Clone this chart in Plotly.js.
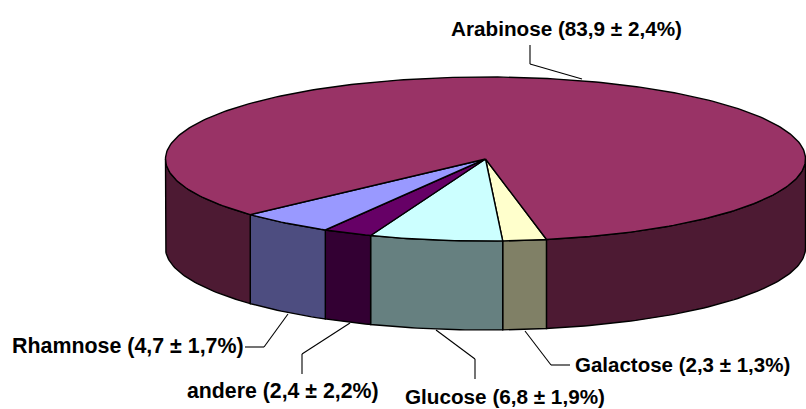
<!DOCTYPE html>
<html>
<head>
<meta charset="utf-8">
<script src="https://cdn.plot.ly/plotly-3.0.1.min.js"></script>
<style>html,body{margin:0;padding:0;background:#fff}#c{width:806px;height:409px}</style>
</head>
<body>
<div id="c"></div>
<script>
// Slices in drawing order, clockwise on screen from the front right
var names = ['Galactose', 'Glucose', 'andere', 'Rhamnose', 'Arabinose'];
// Slice sizes
var values = [2.2, 6.7, 2.5, 4.8, 83.8];
// Values as printed in the labels
var errors = ['2,3 ± 1,3%', '6,8 ± 1,9%', '2,4 ± 2,2%', '4,7 ± 1,7%', '83,9 ± 2,4%'];
var topColors = ['#FFFFCC', '#CCFFFF', '#660066', '#9999FF', '#993366'];
var sideColors = ['#808066', '#668080', '#330033', '#4D4D80', '#4D1A33'];

// Label anchors (centre of text) and font sizes
var labelX = [682, 504.5, 283, 127.5, 566];
var labelY = [364, 396, 391, 346, 28];
var labelSize = [20.5, 20.7, 21.3, 21.4, 20.7];
// Leader polylines
var leadX = [[570,551,525], [475,475,436], [302,302,350], [245,264,288], [530,530,582]];
var leadY = [[365,365,331], [379,359,330], [374,354,323], [347,347,314], [45,64,79]];

// Pie geometry
var cx = 485.5, cy = 159, rx = 320, ry = 82, depth = 89, startDeg = 79;

function arc(a0, a1, dy) {
  var xs = [], ys = [];
  var n = Math.max(2, Math.ceil(Math.abs(a1 - a0)));
  for (var i = 0; i <= n; i++) {
    var t = (a0 + (a1 - a0) * i / n) * Math.PI / 180;
    xs.push(cx + rx * Math.cos(t));
    ys.push(cy + ry * Math.sin(t) + dy);
  }
  return {x: xs, y: ys};
}

var total = values.reduce(function (s, v) { return s + v; }, 0);
var spans = [], acc = startDeg;
values.forEach(function (v) { var e = acc + v / total * 360; spans.push([acc, e]); acc = e; });

var traces = [];
function poly(x, y, color) {
  traces.push({type: 'scatter', mode: 'lines', x: x, y: y, fill: 'toself', fillcolor: color,
    line: {color: '#000', width: 1.4}, hoverinfo: 'skip', showlegend: false});
}
function side(a0, a1, color) {
  var top = arc(a0, a1, 0), bot = arc(a1, a0, depth);
  poly(top.x.concat(bot.x, [top.x[0]]), top.y.concat(bot.y, [top.y[0]]), color);
}
// Side walls: only the front half of the rim (0..180 deg, or 360..540) is visible
spans.forEach(function (s, i) {
  [0, 360].forEach(function (o) {
    var a0 = Math.max(s[0], o), a1 = Math.min(s[1], o + 180);
    if (a1 > a0) side(a0, a1, sideColors[i]);
  });
});
// Top faces
spans.forEach(function (s, i) {
  var a = arc(s[0], s[1], 0);
  poly([cx].concat(a.x, [cx]), [cy].concat(a.y, [cy]), topColors[i]);
});

var shapes = [], annotations = [];
names.forEach(function (n, i) {
  for (var k = 0; k < 2; k++) {
    shapes.push({type: 'line', xref: 'x', yref: 'y', x0: leadX[i][k], y0: leadY[i][k],
      x1: leadX[i][k + 1], y1: leadY[i][k + 1], line: {color: '#000', width: 1.1}, layer: 'below'});
  }
  annotations.push({xref: 'x', yref: 'y', x: labelX[i], y: labelY[i], showarrow: false,
    xanchor: 'center', yanchor: 'middle', text: n + ' (' + errors[i] + ')',
    font: {family: '"Liberation Sans", Arial, sans-serif', size: labelSize[i], color: '#000', weight: 700}});
});

Plotly.newPlot('c', traces, {
  width: 806, height: 409,
  margin: {l: 0, r: 0, t: 0, b: 0},
  paper_bgcolor: '#fff', plot_bgcolor: '#fff',
  showlegend: false,
  xaxis: {range: [0, 806], visible: false, fixedrange: true},
  yaxis: {range: [409, 0], visible: false, fixedrange: true},
  shapes: shapes, annotations: annotations
}, {displayModeBar: false, staticPlot: true});
</script>
</body>
</html>
